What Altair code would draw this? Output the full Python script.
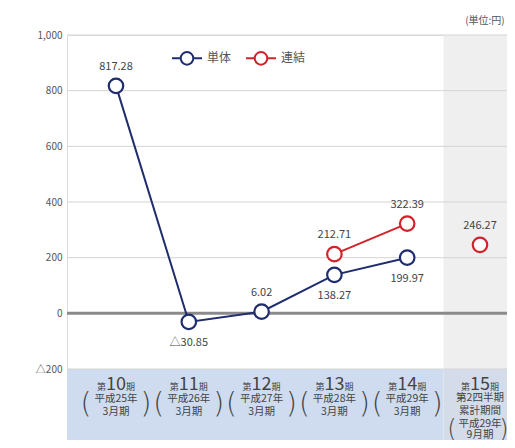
import altair as alt
import pandas as pd

# ---------------- data ----------------
period_nums = ["10", "11", "12", "13", "14", "15"]
single = [817.28, -30.85, 6.02, 138.27, 199.97, None]          # 単体
consolidated = [None, None, None, 212.71, 322.39, 246.27]     # 連結
single_pos = ["above", "below", "above", "below", "below", None]
consolidated_pos = [None, None, None, "above", "above", "above"]
row2 = ["平成25年", "平成26年", "平成27年", "平成28年", "平成29年", "第2四半期"]
row3 = ["3月期", "3月期", "3月期", "3月期", "3月期", "累計期間"]
row4 = [None, None, None, None, None, "平成29年"]
row5 = [None, None, None, None, None, "9月期"]
y_ticks = [1000, 800, 600, 400, 200, 0, -200]
grid_vals = [1000, 800, 600, 400, 200, -200]
series_names = ["単体", "連結"]
colors = ["#1f2d6e", "#d2232a"]

FONT = "Noto Sans CJK JP"
W, H = 440, 405
X_DOM = [-0.673, 5.371]
Y_DOM = [-455, 1000]
Y_AX_MIN = -200
n = len(period_nums)
split = n - 1.5  # boundary before last (partial) period

# ---------------- tables ----------------
rows = []
for i in range(n):
    if single[i] is not None:
        rows.append(dict(x=i, y=single[i], series="単体", seg="単体",
                         pos=single_pos[i]))
    if consolidated[i] is not None:
        rows.append(dict(x=i, y=consolidated[i], series="連結",
                         seg="連結b" if i == n - 1 else "連結a",
                         pos=consolidated_pos[i]))
df = pd.DataFrame(rows)
df["label"] = df["y"].apply(lambda v: ("△" + f"{abs(v):.2f}") if v < 0 else f"{v:.2f}")

bands = pd.DataFrame([
    dict(x=X_DOM[0], x2=split, y=Y_DOM[0], y2=Y_AX_MIN, c="#cfdcef"),
    dict(x=split, x2=X_DOM[1], y=Y_DOM[0], y2=Y_AX_MIN, c="#d5dce9"),
    dict(x=split, x2=X_DOM[1], y=Y_AX_MIN, y2=Y_DOM[1], c="#efefef"),
])
grid = pd.DataFrame(dict(y=grid_vals))
zero = pd.DataFrame(dict(y=[0]))

# category label rows (y levels in data units)
LV_NUM, LV2, LV3, LV_PAR = -274, -306, -354, -329
LV2b, LV3b, LV4b, LV5b, LV_PARb = -303, -350, -396, -438, -418
num_df = pd.DataFrame(dict(x=list(range(n)), y=[LV_NUM] * n, t=period_nums))
txt_rows = []
par_rows = []
for i in range(n):
    if i < n - 1:
        txt_rows += [dict(x=i, y=LV2, t=row2[i]), dict(x=i, y=LV3, t=row3[i])]
        par_rows.append(dict(x=i, y=LV_PAR, last=False))
    else:
        txt_rows += [dict(x=i, y=LV2b, t=row2[i]), dict(x=i, y=LV3b, t=row3[i]),
                     dict(x=i, y=LV4b, t=row4[i]), dict(x=i, y=LV5b, t=row5[i])]
        par_rows.append(dict(x=i, y=LV_PARb, last=True))
txt_df = pd.DataFrame(txt_rows)
par_df = pd.DataFrame(par_rows)

# ---------------- encodings ----------------
xs = alt.Scale(domain=X_DOM, nice=False, zero=False)
ys = alt.Scale(domain=Y_DOM, nice=False, zero=False)
y_axis = alt.Axis(values=y_ticks, domain=False, ticks=False, grid=False, title=None,
                  labelExpr="datum.value < 0 ? '△' + format(abs(datum.value), ',') : format(datum.value, ',')",
                  labelFontSize=10, labelColor="#555", labelFont=FONT, labelPadding=5)
X = lambda f="x": alt.X(f"{f}:Q", scale=xs, axis=None)
Y = lambda f="y": alt.Y(f"{f}:Q", scale=ys, axis=y_axis)

legend_path = ("M-1,0L-0.42,0M0.42,0L1,0"
               "M0.42,0A0.42,0.42 0 1,1 -0.42,0A0.42,0.42 0 1,1 0.42,0")
leg = alt.Legend(title=None, orient="none", legendX=104, legendY=7, direction="horizontal",
                 symbolType=legend_path, symbolSize=900, symbolStrokeWidth=2,
                 symbolFillColor="white", labelFontSize=12, labelColor="#555",
                 labelFont=FONT, columnPadding=10, labelOffset=4)
stroke = alt.Stroke("series:N", scale=alt.Scale(domain=series_names, range=colors), legend=leg)

rects = alt.Chart(bands).mark_rect().encode(
    x=X("x"), x2="x2", y=Y("y"), y2="y2", color=alt.Color("c:N", scale=None))
grid_l = alt.Chart(grid).mark_rule(color="#d4d4d4", strokeWidth=1).encode(
    x=alt.value(0), x2=alt.value(W), y=Y("y"))
zero_l = alt.Chart(zero).mark_rule(color="#8a8a8a", strokeWidth=3).encode(
    x=alt.value(0), x2=alt.value(W), y=Y("y"))
lines = alt.Chart(df).mark_line(strokeWidth=2).encode(
    x=X(), y=Y(), stroke=stroke, detail="seg:N")
points = alt.Chart(df).mark_point(shape="circle", filled=True, fill="white", size=210,
                                  strokeWidth=2.2, opacity=1).encode(
    x=X(), y=Y(), stroke=stroke)
lab_style = dict(font=FONT, fontSize=11, color="#444")
lab_above = alt.Chart(df).transform_filter("datum.pos == 'above'").mark_text(
    dy=-19, **lab_style).encode(x=X(), y=Y(), text="label:N")
lab_below = alt.Chart(df).transform_filter("datum.pos == 'below'").mark_text(
    dy=21, **lab_style).encode(x=X(), y=Y(), text="label:N")

cat_col = "#444"
dai = alt.Chart(num_df).mark_text(text="第", dx=-10, align="right", baseline="alphabetic",
                                  fontSize=9, font=FONT, color=cat_col).encode(x=X(), y=Y())
num = alt.Chart(num_df).mark_text(align="center", baseline="alphabetic", fontSize=18,
                                  font=FONT, color=cat_col).encode(x=X(), y=Y(), text="t:N")
ki = alt.Chart(num_df).mark_text(text="期", dx=10, align="left", baseline="alphabetic",
                                 fontSize=9, font=FONT, color=cat_col).encode(x=X(), y=Y())
txt = alt.Chart(txt_df).mark_text(align="center", baseline="middle", fontSize=10.5,
                                  font=FONT, color=cat_col).encode(x=X(), y=Y(), text="t:N")
par_style = dict(baseline="middle", font="DejaVu Sans", fontWeight=200, color=cat_col,
                 align="center")
lpar = alt.Chart(par_df).transform_filter("!datum.last").mark_text(
    text="(", dx=-30, fontSize=28, **par_style).encode(x=X(), y=Y())
rpar = alt.Chart(par_df).transform_filter("!datum.last").mark_text(
    text=")", dx=30, fontSize=28, **par_style).encode(x=X(), y=Y())
lpar2 = alt.Chart(par_df).transform_filter("datum.last").mark_text(
    text="(", dx=-28, fontSize=24, **par_style).encode(x=X(), y=Y())
rpar2 = alt.Chart(par_df).transform_filter("datum.last").mark_text(
    text=")", dx=24, fontSize=24, **par_style).encode(x=X(), y=Y())

chart = alt.layer(
    rects, grid_l, zero_l, lines, points, lab_above, lab_below,
    dai, num, ki, txt, lpar, rpar, lpar2, rpar2
).properties(
    width=W, height=H,
    title=alt.TitleParams("(単位:円)", anchor="end", fontSize=10, color="#555",
                          fontWeight="normal", font=FONT, offset=4, dx=-4),
    autosize=alt.AutoSizeParams(type="none"),
    padding={"left": 59, "top": 27, "right": 0, "bottom": 0},
).configure_view(stroke=None).configure(background="white")

chart.save("out.html", embed_options={"renderer": "svg", "actions": False})
